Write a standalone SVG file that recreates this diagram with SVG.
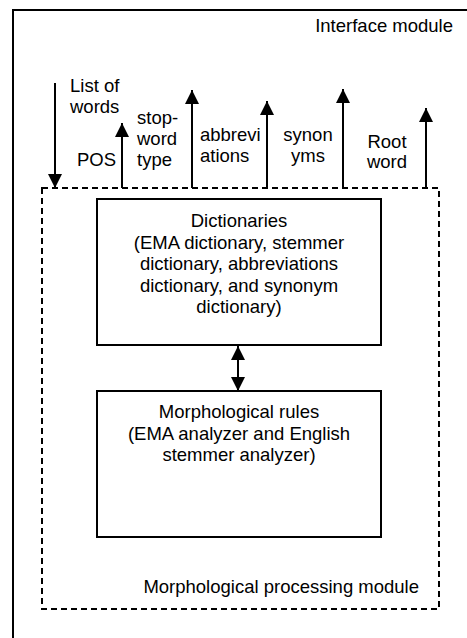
<svg xmlns="http://www.w3.org/2000/svg" width="467" height="638" viewBox="0 0 467 638">
<style>
text{font-family:"Liberation Sans",Arial,sans-serif;font-size:18.5px;fill:#000}
.c{text-anchor:middle}
.ln{stroke:#000;stroke-width:2;fill:none}
.dash{stroke:#000;stroke-width:2;fill:none;stroke-dasharray:6,4}
</style>
<defs>
<marker id="ah" viewBox="0 0 10 10" refX="10" refY="5" markerWidth="7" markerHeight="7" orient="auto-start-reverse" markerUnits="strokeWidth"><path d="M0,0 L10,5 L0,10 z" fill="#000"/></marker>
</defs>
<g id="interface-module">
<path class="ln" d="M13,638 V10 H467"/>
<text x="453" y="32" text-anchor="end">Interface module</text>
</g>
<g id="morph-module">
<rect class="dash" x="42" y="188" width="397" height="421"/>
<text x="419" y="593" text-anchor="end">Morphological processing module</text>
</g>
<g id="dictionaries">
<rect class="ln" x="97" y="199" width="284" height="146"/>
<text class="c" x="239" y="227">Dictionaries</text>
<text class="c" x="239" y="249">(EMA dictionary, stemmer</text>
<text class="c" x="239" y="270">dictionary, abbreviations</text>
<text class="c" x="239" y="292">dictionary, and synonym</text>
<text class="c" x="239" y="313">dictionary)</text>
</g>
<g id="rules">
<rect class="ln" x="97" y="391" width="284" height="146"/>
<text class="c" x="239" y="418">Morphological rules</text>
<text class="c" x="239" y="440">(EMA analyzer and English</text>
<text class="c" x="239" y="461">stemmer analyzer)</text>
</g>
<g id="labels">
<text x="70" y="92">List of</text>
<text x="70" y="113">words</text>
<text x="77" y="166">POS</text>
<text x="137" y="124">stop-</text>
<text x="137" y="145">word</text>
<text x="137" y="166">type</text>
<text x="200" y="141">abbrevi</text>
<text x="200" y="162">ations</text>
<text class="c" x="308" y="141">synon</text>
<text class="c" x="308" y="162">yms</text>
<text class="c" x="387" y="148">Root</text>
<text class="c" x="387" y="168">word</text>
</g>
<g id="connectors">
<line class="ln" x1="55" y1="83" x2="55" y2="188" marker-end="url(#ah)"/>
<line class="ln" x1="122" y1="188" x2="122" y2="123" marker-end="url(#ah)"/>
<line class="ln" x1="192" y1="188" x2="192" y2="90" marker-end="url(#ah)"/>
<line class="ln" x1="267" y1="188" x2="267" y2="101" marker-end="url(#ah)"/>
<line class="ln" x1="343" y1="188" x2="343" y2="89" marker-end="url(#ah)"/>
<line class="ln" x1="426" y1="188" x2="426" y2="108" marker-end="url(#ah)"/>
<line class="ln" x1="238" y1="346" x2="238" y2="391" marker-start="url(#ah)" marker-end="url(#ah)"/>
</g>
</svg>
